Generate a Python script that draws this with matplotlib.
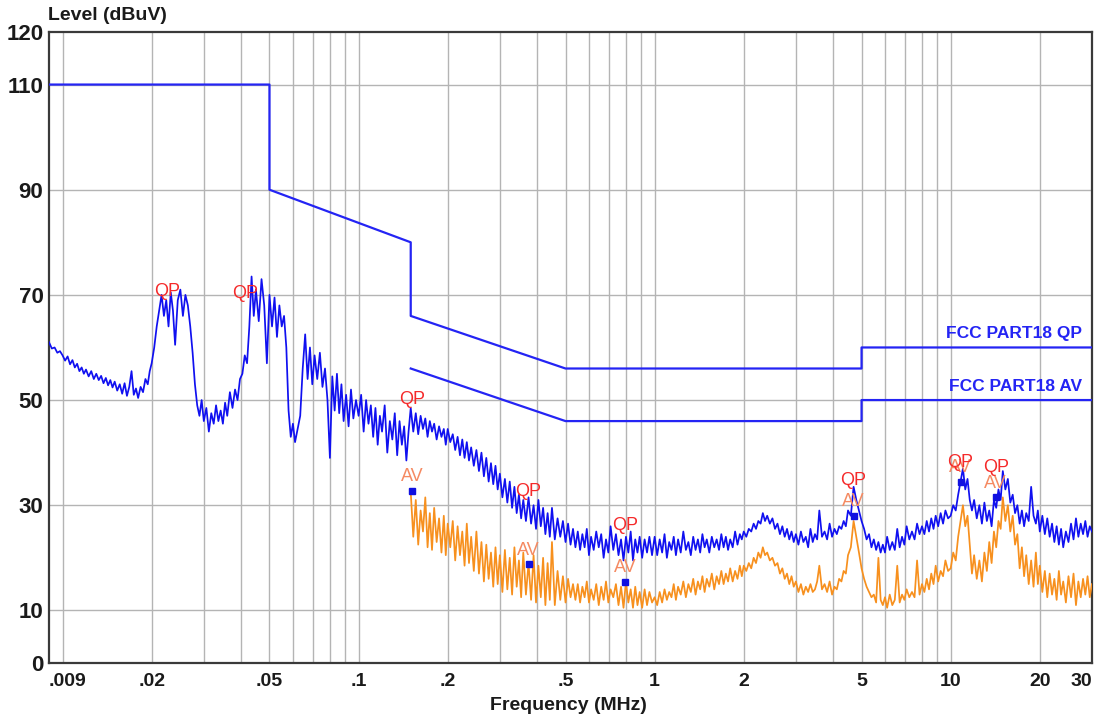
import matplotlib
matplotlib.use("Agg")
import matplotlib.pyplot as plt
from matplotlib.ticker import FixedLocator

plt.rcParams["font.family"] = ["Liberation Sans", "DejaVu Sans"]

# receiver sweep grid: mantissas used in every decade (124 steps per decade)
SWEEP_MANTISSA = [
    1.00, 1.02, 1.04, 1.06, 1.08, 1.10, 1.12, 1.14, 1.16, 1.18,
    1.20, 1.225, 1.25, 1.275, 1.30, 1.325, 1.35, 1.375, 1.40, 1.425,
    1.45, 1.475, 1.50, 1.53, 1.56, 1.59, 1.62, 1.65, 1.68, 1.71,
    1.74, 1.77, 1.80, 1.835, 1.87, 1.905, 1.94, 1.97, 2.00, 2.04,
    2.08, 2.12, 2.16, 2.20, 2.24, 2.28, 2.32, 2.36, 2.40, 2.45,
    2.50, 2.55, 2.60, 2.65, 2.70, 2.75, 2.80, 2.85, 2.90, 2.95,
    3.00, 3.06, 3.12, 3.18, 3.24, 3.30, 3.36, 3.42, 3.48, 3.54,
    3.60, 3.675, 3.75, 3.825, 3.90, 3.975, 4.05, 4.125, 4.20, 4.275,
    4.35, 4.425, 4.50, 4.60, 4.70, 4.80, 4.90, 5.00, 5.10, 5.20,
    5.30, 5.40, 5.50, 5.60, 5.70, 5.80, 5.90, 6.00, 6.10, 6.225,
    6.35, 6.475, 6.60, 6.725, 6.85, 6.975, 7.10, 7.25, 7.40, 7.55,
    7.70, 7.85, 8.00, 8.15, 8.30, 8.45, 8.60, 8.75, 8.90, 9.075,
    9.25, 9.425, 9.60, 9.80,
]

# peak scan (blue trace), dBuV
QP_START_MHZ = [0.009, 0.0092, 0.0094, 0.0096, 0.0098]
QP_START = [61, 59.8, 60, 59, 59.3]
QP_D1 = [  # 0.01 .. 0.1 MHz
    58.5, 57.5, 58.3, 56.8, 57.6, 56.2, 56.9, 55.5, 56.2, 55,
    55.8, 54.5, 55.5, 54, 55, 53.8, 54.6, 53.2, 54.2, 52.8,
    53.8, 52.4, 53.5, 51.8, 53, 51.2, 53.2, 50.8, 52.5, 55.5,
    51, 52.2, 50.4, 52.5, 51.5, 54, 53, 55.5, 57, 60,
    64, 67, 70, 66, 69, 64, 70.5, 67, 60.5, 69,
    71, 66, 70, 68, 64, 59, 53, 49, 47, 50,
    46, 48.5, 44, 47.5, 45.5, 49, 46, 48, 45.5, 49.5,
    47, 51.5, 48.5, 52, 50, 54, 55, 58.5, 57, 64,
    73.5, 66, 71, 65, 73, 68, 57, 70, 64, 69.5,
    62, 68, 64, 66, 60, 48, 43, 45.5, 42, 44.5,
    47, 56, 62.5, 54, 60, 53, 58.5, 54, 59, 52.5,
    56, 50, 39, 54.5, 48, 55, 47.5, 53, 46, 51,
    45, 52, 46.5, 50,
]
QP_D2 = [  # 0.1 .. 1 MHz
    47, 51, 44, 50, 45.5, 49, 43, 48.5, 41.5, 47,
    44, 49, 40, 46, 42.5, 47.5, 39.5, 46, 41.5, 45,
    38.5, 44, 48.5, 44, 47.5, 43.5, 47, 44.5, 46.5, 43,
    46, 44, 45.5, 42.5, 45, 43, 44.5, 41.5, 44.5, 42,
    43.5, 40.5, 43, 39.5, 42.5, 39, 42, 38.5, 41, 37.5,
    40.5, 36.5, 40, 35.5, 39, 34.5, 38, 34, 37.5, 33,
    36, 31.5, 35, 30.5, 34.5, 29.5, 33.5, 28.5, 32, 27.5,
    31, 27, 31.5, 26.5, 30, 25.5, 31, 26, 29.5, 24.5,
    28.5, 24, 29.5, 23.5, 27.5, 24, 27, 23, 26.5, 22.5,
    25.5, 22, 25, 21.5, 24.5, 22, 25.5, 20.5, 24, 21.5,
    25, 22, 24.5, 20, 23.5, 21, 26, 21.5, 24.5, 20.5,
    23.5, 19.5, 24, 21, 25, 19.5, 23.5, 21, 24, 20,
    23.5, 21, 24, 20.5,
]
QP_D3 = [  # 1 .. 10 MHz
    24, 20.5, 23.5, 21, 24.5, 20, 23, 21.5, 24, 20.5,
    23.5, 21, 25, 21.5, 23, 20.5, 24, 21.5, 23.5, 21,
    24.5, 22, 23.5, 21, 24, 22, 23.5, 21.5, 24.5, 22,
    24, 21.5, 23.5, 22, 25, 22.5, 24.5, 23.5, 25, 24,
    25.5, 25, 26.5, 25.5, 27, 26.5, 28.5, 27, 28, 26.5,
    27.5, 25.5, 26.5, 24.5, 26, 24, 25.5, 23.5, 25, 23,
    24.5, 22.5, 25, 23, 24, 22, 25.5, 23, 24.5, 23.5,
    29, 24, 25, 23.5, 26.5, 24, 25.5, 24.5, 26, 25.5,
    27, 26, 29, 28, 33.5, 31, 29, 27, 25.5, 23.5,
    24.5, 22, 23.5, 21.5, 23, 21, 22.5, 21, 24, 21.5,
    23, 21.5, 25.5, 22, 24, 22.5, 26, 23.5, 25, 23.5,
    26.5, 24.5, 26, 24.5, 27, 25, 27.5, 25.5, 28, 26,
    28.5, 26.5, 29, 27.5,
]
QP_D4 = [  # 10 .. 30 MHz
    28, 30, 29, 32, 34.5, 37, 33, 35, 31, 29,
    31, 27.5, 30, 26.5, 30.5, 27, 29, 26, 31, 29.5,
    33, 31, 36.5, 33, 35, 30.5, 32, 28.5, 30, 26.5,
    29, 26, 28.5, 27, 33.5, 28, 26.5, 29, 25, 28,
    24.5, 27.5, 24, 26.5, 23, 26, 22.5, 25.5, 22, 25,
    23, 26.5, 23.5, 27.5, 24, 26.5, 24.5, 27, 24, 26,
    25,
]

# average scan (orange trace), starts at 0.15 MHz
AV_D2 = [
    32.5, 24, 31, 22.5, 29, 25, 31.5, 22, 28.5, 21.5,
    29.5, 23, 27.5, 21, 28, 20.5, 26.5, 22, 27, 19.5,
    26, 20.5, 25, 18.5, 26.5, 19, 24, 17.5, 25, 17,
    23, 15.5, 22.5, 16, 21, 14.5, 22, 15, 20.5, 13.5,
    21.5, 14, 20, 13, 22, 14.5, 19.5, 12.5, 21, 13,
    19, 12, 20.5, 11.5, 18.5, 12.5, 20, 11, 19, 12,
    23, 11, 17.5, 12, 16.5, 11.5, 16, 12.5, 15, 12,
    15, 11.5, 14.5, 12.5, 15.5, 11.5, 14, 12, 15, 11,
    14.5, 12, 15.5, 11.5, 14, 12.5, 15, 11, 14.5, 10.5,
    15.5, 11.5, 14, 10.5, 14.5, 11, 13.5, 10.5, 14, 11,
    13.5, 11.5,
]
AV_D3 = [
    12.5, 11, 13.5, 11.5, 14, 12, 13.5, 12.5, 15, 12,
    14.5, 13, 15.5, 12.5, 15, 13.5, 16, 13, 15.5, 14,
    16.5, 13.5, 16, 14.5, 17, 14, 16.5, 15, 17.5, 15,
    17, 15.5, 18, 15.5, 17.5, 16, 18.5, 16.5, 18.5, 17.5,
    19, 18, 20, 19, 21, 20, 22, 20.5, 21, 19.5,
    20, 18.5, 19, 17, 18, 16, 17, 15, 16.5, 14.5,
    15.5, 13.5, 15, 13, 14.5, 13.5, 15, 13.5, 14, 15.5,
    18.5, 14, 15, 13.5, 15.5, 13, 14.5, 14, 16, 15.5,
    17.5, 17, 20.5, 22, 27, 24, 21, 18, 16, 14.5,
    13.5, 12.5, 13, 11.5, 20, 12, 11, 12.5, 10.5, 13,
    11, 12, 18.5, 11.5, 13, 12, 14, 12.5, 13.5, 12.5,
    19.5, 13, 15, 13.5, 16, 14, 17, 15, 18.5, 15.5,
    17.5, 16.5, 19.5, 17.5,
]
AV_D4 = [
    18, 21, 19.5, 24, 27, 30, 26, 28, 22.5, 17,
    20.5, 16, 19.5, 15.5, 21, 17.5, 23, 19, 25, 22,
    27, 25.5, 31.5, 27, 30, 25, 28, 22.5, 24.5, 18,
    22, 16.5, 20.5, 15, 19.5, 14.5, 21, 15, 18.5, 13.5,
    17.5, 12.5, 17, 13, 16, 12, 17.5, 13, 15.5, 11.5,
    16.5, 12.5, 17, 11, 15.5, 12.5, 16, 13, 16.5, 12.5,
    15,
]

LIMIT_QP_MHZ = [0.009, 0.05, 0.05, 0.15, 0.15, 0.5, 5, 5, 30]
LIMIT_QP_DB = [110, 110, 90, 80, 66, 56, 56, 60, 60]
LIMIT_AV_MHZ = [0.15, 0.5, 5, 5, 30]
LIMIT_AV_DB = [56, 46, 46, 50, 50]

QP_MARK_MHZ = [0.0225, 0.0415, 0.152, 0.375, 0.793, 4.70, 10.8, 14.2]
QP_MARK_DB = [69, 68.6, 48.5, 31, 24.5, 33, 36.5, 35.5]
AV_MARK_MHZ = [0.152, 0.375, 0.793, 4.70, 10.8, 14.2]
AV_MARK_DB = [32.7, 18.8, 15.4, 28, 34.5, 31.5]

XTICKS = [0.009, 0.02, 0.05, 0.1, 0.2, 0.5, 1, 2, 5, 10, 20, 30]
XTICK_LABELS = [".009", ".02", ".05", ".1", ".2", ".5", "1", "2", "5", "10", "20", "30"]
YTICKS = [0, 10, 30, 50, 70, 90, 110, 120]

BLUE = "#1010F0"
LIMIT_BLUE = "#2424F4"
ORANGE = "#F7901E"
RED = "#F52A2A"
SALMON = "#F58A62"
GRID = "#b4b4b4"


def decade(values, scale, start=0):
    return [m * scale for m in SWEEP_MANTISSA[start:start + len(values)]], values


def main():
    qp_f, qp_v = list(QP_START_MHZ), list(QP_START)
    for vals, scale in ((QP_D1, 0.01), (QP_D2, 0.1), (QP_D3, 1.0), (QP_D4, 10.0)):
        f, v = decade(vals, scale)
        qp_f += f
        qp_v += v
    av_f, av_v = [], []
    for vals, scale, start in ((AV_D2, 0.1, 22), (AV_D3, 1.0, 0), (AV_D4, 10.0, 0)):
        f, v = decade(vals, scale, start)
        av_f += f
        av_v += v

    fig = plt.figure(figsize=(11.19, 7.2), dpi=100)
    fig.patch.set_facecolor("white")
    ax = fig.add_axes([0.0438, 0.0792, 0.932, 0.8764])

    ax.set_xscale("log")
    ax.set_xlim(0.009, 30)
    ax.set_ylim(0, 120)

    # log grid: every 1..9 x 10^n inside the window
    for e in (-2, -1, 0, 1):
        for k in range(1, 10):
            g = k * 10.0 ** e
            if 0.009 < g < 30:
                ax.axvline(g, color=GRID, lw=1.0, zorder=0.5)
    for y in (10, 30, 50, 70, 90, 110):
        ax.axhline(y, color=GRID, lw=1.0, zorder=0.5)

    ax.xaxis.set_major_locator(FixedLocator(XTICKS))
    ax.xaxis.set_minor_locator(FixedLocator([]))
    ax.set_xticklabels(XTICK_LABELS)
    ax.set_yticks(YTICKS)

    ax.tick_params(axis="both", which="both", length=0)
    ax.tick_params(axis="x", pad=7, labelsize=14, colors="#1a1a1a")
    ax.tick_params(axis="y", pad=4, labelsize=16, colors="#1a1a1a")
    for lab in ax.get_xticklabels() + ax.get_yticklabels():
        lab.set_fontweight("bold")
    xl = ax.get_xticklabels()
    xl[0].set_ha("left")
    xl[-1].set_ha("right")

    for sp in ax.spines.values():
        sp.set_color("#3a3a3a")
        sp.set_linewidth(1.6)

    ax.plot(qp_f, qp_v, color=BLUE, lw=1.25, zorder=3)
    ax.plot(av_f, av_v, color=ORANGE, lw=1.25, zorder=3.2)
    ax.plot(LIMIT_QP_MHZ, LIMIT_QP_DB, color=LIMIT_BLUE, lw=1.6, zorder=4)
    ax.plot(LIMIT_AV_MHZ, LIMIT_AV_DB, color=LIMIT_BLUE, lw=1.6, zorder=4)

    ax.plot(AV_MARK_MHZ, AV_MARK_DB, "s", color="#1010E0", ms=4.5, zorder=5)
    for f, v in zip(AV_MARK_MHZ, AV_MARK_DB):
        ax.annotate("AV", (f, v), xytext=(0, 4), textcoords="offset points",
                    ha="center", va="bottom", fontsize=13, color=SALMON, zorder=6)
    for f, v in zip(QP_MARK_MHZ, QP_MARK_DB):
        ax.annotate("QP", (f, v), xytext=(0, 0), textcoords="offset points",
                    ha="center", va="bottom", fontsize=13, color=RED, zorder=6)

    ax.text(27.8, 61.2, "FCC PART18 QP", ha="right", va="bottom", fontsize=12.5,
            fontweight="bold", color=LIMIT_BLUE)
    ax.text(27.8, 51.2, "FCC PART18 AV", ha="right", va="bottom", fontsize=12.5,
            fontweight="bold", color=LIMIT_BLUE)

    fig.text(48 / 1119, 1 - 16 / 720, "Level (dBuV)", ha="left", va="center",
             fontsize=14, fontweight="bold", color="#1a1a1a")
    fig.text(568 / 1119, 1 - 706 / 720, "Frequency (MHz)", ha="center", va="center",
             fontsize=14, fontweight="bold", color="#1a1a1a")

    fig.savefig("out.png", dpi=100, facecolor="white")
    plt.close(fig)


if __name__ == "__main__":
    main()
